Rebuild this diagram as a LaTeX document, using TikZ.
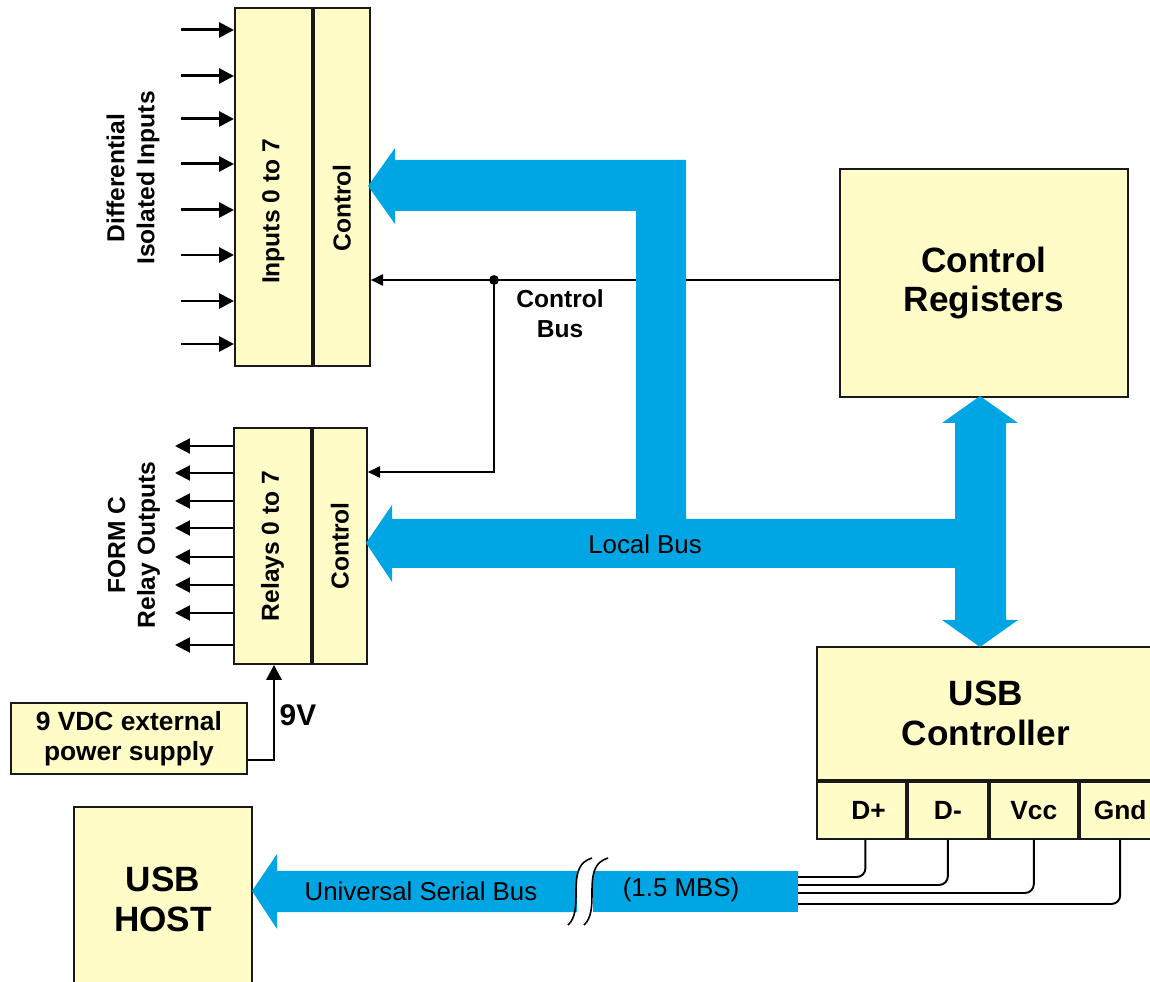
\documentclass[tikz,border=0pt]{standalone}
\usepackage{fontspec}
\setmainfont{Liberation Sans}
\usetikzlibrary{arrows.meta,positioning}
\definecolor{boxfill}{RGB}{255,252,200}
\definecolor{busblue}{RGB}{0,166,227}

\begin{document}
\begin{tikzpicture}[x=0.02cm, y=-0.02cm,
    box/.style={rectangle, draw=black!90, fill=boxfill, line width=1.1pt, inner sep=0pt, font=\bfseries\fontsize{14}{17}\selectfont},
    bigbox/.style={box, align=center, font=\bfseries\fontsize{20}{22.5}\selectfont},
    pin/.style={box, minimum height=1.14cm, font=\bfseries\fontsize{15}{17}\selectfont},
    lbl/.style={align=center, inner sep=0pt, font=\bfseries\fontsize{14}{17}\selectfont},
    bustxt/.style={inner sep=0pt, font=\fontsize{14.7}{17}\selectfont},
    bus/.style={fill=busblue},
    inarrow/.style={-{Triangle[length=8.5pt,width=8.5pt]}, line width=1.7pt},
    outarrow/.style={-{Triangle[length=8.5pt,width=8.5pt]}, line width=1.2pt},
    ctl/.style={-{Triangle[length=7pt,width=6.5pt]}, line width=0.9pt},
    wire/.style={line width=1.1pt, rounded corners=5pt}
]
    \useasboundingbox (0,0) rectangle (1150,982);

    % Input block
    \node[box, minimum width=1.54cm, minimum height=7.16cm, anchor=north west] (inp) at (234,7) {};
    \node[box, minimum width=1.12cm, minimum height=7.16cm, right=0pt of inp] (inctl) {};
    \node[lbl, rotate=90] (inptxt) at ([yshift=-14pt]inp.center) {Inputs 0 to 7};
    \node[lbl, rotate=90] (inctltxt) at ([yshift=-12pt]inctl.center) {Control};
    \node[lbl, rotate=90] (inlbl) at (133,178) {Differential\\Isolated Inputs};

    % Relay block
    \node[box, minimum width=1.54cm, minimum height=4.72cm, anchor=north west] (rel) at (233,427) {\rotatebox{90}{Relays 0 to 7}};
    \node[box, minimum width=1.08cm, minimum height=4.72cm, right=0pt of rel] (relctl) {\rotatebox{90}{Control}};
    \node[lbl, rotate=90] (outlbl) at (134,545) {FORM C\\Relay Outputs};

    \node[box, minimum width=4.72cm, minimum height=1.42cm, anchor=north west, align=center, font=\bfseries\fontsize{15}{17}\selectfont] (psu) at (10,702) {9 VDC external\\power supply};

    % Right side
    \node[bigbox, minimum width=5.76cm, minimum height=4.56cm, anchor=north west] (creg) at (839,168) {Control\\Registers};
    \node[bigbox, minimum width=6.76cm, minimum height=2.66cm, anchor=north west] (usbc) at (816,646) {USB\\Controller};
    \node[pin, minimum width=1.78cm, below right=0pt of usbc.south west] (dp) {\hspace{8pt}D+};
    \node[pin, minimum width=1.6cm, right=0pt of dp] (dm) {D-};
    \node[pin, minimum width=1.76cm, right=0pt of dm] (vcc) {Vcc};
    \node[pin, minimum width=1.62cm, right=0pt of vcc] (gnd) {Gnd};

    \node[bigbox, minimum width=3.56cm, minimum height=3.7cm, anchor=north west] (host) at (73,806) {USB\\HOST};

    % Signal lines
    \foreach \y in {30,76,119,164,210,255,301,344}
        \draw[inarrow] (181,\y) -- (inp.west |- 0,\y);
    \foreach \y in {446,473,501,528,557,585,613,645}
        \draw[outarrow] (rel.west |- 0,\y) -- (175,\y);

    \coordinate (jn) at (494,280);
    \draw[ctl] (creg.west |- jn) -- (inctl.east |- jn);
    \draw[ctl] (jn) |- (relctl.east |- 0,472);
    \fill (jn) circle (2.8pt);
    \node[lbl] (cbus) at (560,314) {Control\\Bus};

    \draw[inarrow] (psu.east |- 0,760) -| (274,0 |- rel.south);
    \node[lbl, font=\bfseries\fontsize{17}{19}\selectfont] (vlbl) at (298,715) {9V};

    % Buses
    \fill[bus] (368,186) -- (395,148) -- (395,160) -- (686,160) -- (686,519) -- (636,519) -- (636,211) -- (395,211) -- (395,224) -- cycle;
    \fill[bus] (366,543) -- (392,505) -- (392,519) -- (955,519) -- (955,423) -- (942,423) -- (980,396) -- (1018,423) -- (1006,423)
        -- (1006,620) -- (1018,620) -- (980,647) -- (942,620) -- (955,620) -- (955,568) -- (392,568) -- (392,582) -- cycle;
    \node[bustxt] (lbus) at (645,544) {Local Bus};

    \fill[bus] (252,891) -- (277,854) -- (277,871) -- (577,871) -- (577,912) -- (277,912) -- (277,929) -- cycle;
    \fill[bus] (593,871) rectangle (798,912);
    \draw[line width=0.9pt] (568,925) .. controls (576,918) and (576,905) .. (576,891) .. controls (576,870) and (580,862) .. (592,858);
    \draw[line width=0.9pt] (584,925) .. controls (592,918) and (592,905) .. (592,891) .. controls (592,870) and (596,862) .. (608,858);
    \node[bustxt] (usbtxt) at (421,891) {Universal Serial Bus};
    \node[bustxt] (rate) at (681,890) {(1.5 MBS)};

    % USB wires
    \draw[wire] (dp.south) ++(4,0) |- (798,877);
    \draw[wire] (dm.south) |- (798,885);
    \draw[wire] (vcc.south) |- (798,893);
    \draw[wire] (gnd.south) |- (798,904);
\end{tikzpicture}
\end{document}
